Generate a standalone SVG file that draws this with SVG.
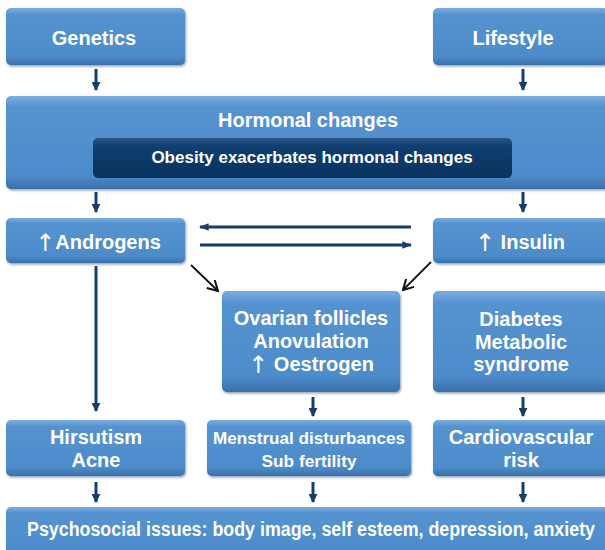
<svg xmlns="http://www.w3.org/2000/svg" width="605" height="550" viewBox="0 0 605 550">
<defs>
<linearGradient id="g" x1="0" y1="0" x2="0" y2="1">
<stop offset="0" stop-color="#7cace0"/>
<stop offset="0.12" stop-color="#5592d0"/>
<stop offset="0.85" stop-color="#4d8cca"/>
<stop offset="1" stop-color="#3b6fa8"/>
</linearGradient>
<linearGradient id="gd" x1="0" y1="0" x2="0" y2="1">
<stop offset="0" stop-color="#2a5686"/>
<stop offset="0.2" stop-color="#0f3e70"/>
<stop offset="1" stop-color="#0a335f"/>
</linearGradient>
<filter id="sh" x="-5%" y="-5%" width="110%" height="120%">
<feDropShadow dx="1" dy="1.5" stdDeviation="1.2" flood-color="#1d3f66" flood-opacity="0.5"/>
</filter>
<marker id="ah" viewBox="0 0 10 10" refX="9" refY="5" markerWidth="3" markerHeight="3" orient="auto" markerUnits="strokeWidth">
<path d="M0,0 L10,5 L0,10 z" fill="#163e6b"/>
</marker>
<marker id="ah2" viewBox="0 0 10 10" refX="9" refY="5" markerWidth="3.2" markerHeight="3.2" orient="auto" markerUnits="strokeWidth">
<path d="M0,1 L10,5 L0,9 z" fill="#163e6b"/>
</marker>
<marker id="chev" viewBox="0 0 10 10" refX="9" refY="5" markerWidth="7" markerHeight="7" orient="auto" markerUnits="strokeWidth">
<path d="M1,0.5 L9,5 L1,9.5" fill="none" stroke="#111" stroke-width="1.6"/>
</marker>
</defs>
<style>
.box{fill:url(#g);filter:url(#sh)}
.t{font-family:"Liberation Sans",Arial,sans-serif;font-weight:bold;fill:#fff;text-anchor:middle;font-size:20px}
.s{font-size:17px}
.ar{font-family:"DejaVu Sans",sans-serif;font-weight:normal;font-size:24px}
.c{stroke:#163e6b;stroke-width:3;fill:none;marker-end:url(#ah)}
.h{stroke:#163e6b;stroke-width:3;fill:none;marker-end:url(#ah2)}
.d{stroke:#111;stroke-width:1.8;fill:none;marker-end:url(#chev)}
</style>
<rect width="605" height="550" fill="#fff"/>

<g id="connectors">
<line class="c" x1="96" y1="69" x2="96" y2="90"/>
<line class="c" x1="523" y1="69" x2="523" y2="90"/>
<line class="c" x1="96" y1="192" x2="96" y2="212"/>
<line class="c" x1="523" y1="192" x2="523" y2="212"/>
<line class="h" x1="411" y1="227" x2="200" y2="227"/>
<line class="h" x1="200" y1="245" x2="411" y2="245"/>
<line class="d" x1="191" y1="265" x2="218" y2="291"/>
<line class="d" x1="431" y1="262" x2="403" y2="290"/>
<line class="c" x1="96" y1="266" x2="96" y2="411"/>
<line class="c" x1="313" y1="397" x2="313" y2="416"/>
<line class="c" x1="523" y1="397" x2="523" y2="416"/>
<line class="c" x1="96" y1="482" x2="96" y2="502"/>
<line class="c" x1="313" y1="482" x2="313" y2="502"/>
<line class="c" x1="523" y1="482" x2="523" y2="502"/>
</g>

<g id="genetics">
<rect class="box" x="6" y="8" width="179" height="57" rx="5"/>
<text class="t" x="94" y="45">Genetics</text>
</g>
<g id="lifestyle">
<rect class="box" x="433" y="8" width="175" height="57" rx="5"/>
<text class="t" x="513" y="45">Lifestyle</text>
</g>
<g id="hormonal">
<rect class="box" x="6" y="96" width="605" height="93" rx="5"/>
<text class="t" x="308" y="127">Hormonal changes</text>
</g>
<g id="obesity">
<rect x="93" y="138" width="419" height="40" rx="5" fill="url(#gd)"/>
<text class="t s" x="312" y="163">Obesity exacerbates hormonal changes</text>
</g>
<g id="androgens">
<rect class="box" x="6" y="218" width="179" height="45" rx="5"/>
<text class="t" x="98" y="249"><tspan class="ar" dy="2">↑</tspan><tspan dy="-2">Androgens</tspan></text>
</g>
<g id="insulin">
<rect class="box" x="433" y="218" width="175" height="45" rx="5"/>
<text class="t" x="520" y="249"><tspan class="ar" dy="2">↑</tspan><tspan dy="-2"> Insulin</tspan></text>
</g>
<g id="ovarian">
<rect class="box" x="222" y="291" width="178" height="101" rx="5"/>
<text class="t" x="311" y="325">Ovarian follicles</text>
<text class="t" x="311" y="348">Anovulation</text>
<text class="t" x="311" y="371"><tspan class="ar" dy="2">↑</tspan><tspan dy="-2"> Oestrogen</tspan></text>
</g>
<g id="diabetes">
<rect class="box" x="433" y="291" width="175" height="101" rx="5"/>
<text class="t" x="521" y="326">Diabetes</text>
<text class="t" x="521" y="349">Metabolic</text>
<text class="t" x="521" y="371">syndrome</text>
</g>
<g id="hirsutism">
<rect class="box" x="6" y="420" width="179" height="56" rx="5"/>
<text class="t" x="96" y="444">Hirsutism</text>
<text class="t" x="96" y="467">Acne</text>
</g>
<g id="menstrual">
<rect class="box" x="207" y="420" width="204" height="56" rx="5"/>
<text class="t s" x="309" y="444" textLength="192" lengthAdjust="spacingAndGlyphs">Menstrual disturbances</text>
<text class="t s" x="309" y="467" textLength="95" lengthAdjust="spacingAndGlyphs">Sub fertility</text>
</g>
<g id="cardio">
<rect class="box" x="433" y="420" width="175" height="56" rx="5"/>
<text class="t" x="521" y="444">Cardiovascular</text>
<text class="t" x="521" y="467">risk</text>
</g>
<g id="psychosocial">
<rect class="box" x="6" y="507" width="605" height="50" rx="5"/>
<text class="t" x="311" y="536" font-size="15.5" textLength="568" lengthAdjust="spacingAndGlyphs">Psychosocial issues: body image, self esteem, depression, anxiety</text>
</g>
</svg>
